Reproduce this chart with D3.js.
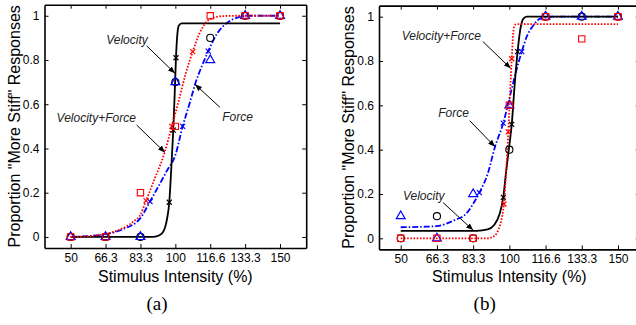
<!DOCTYPE html>
<html lang="en">
<head>
    <meta charset="UTF-8">
    <title>Stiffness psychometric curves</title>
    <script src="https://cdn.jsdelivr.net/npm/d3@7"></script>
    <style>
        body { margin: 0; background: #fff; }
        svg { display: block; }
        .tick-label { font-family: "Liberation Sans", Arial, sans-serif; font-size: 12px; fill: #000; }
        .axis-title { font-family: "Liberation Sans", Arial, sans-serif; font-size: 16px; fill: #000; }
        .note { font-family: "Liberation Sans", Arial, sans-serif; font-size: 12px; font-style: italic; fill: #222; }
        .panel-label { font-family: "Liberation Serif", "Times New Roman", serif; font-size: 19px; fill: #000; }
    </style>
</head>
<body>
<svg id="chart" width="636" height="325"></svg>
<script>
    // stimulus levels and the labels printed under them
    var stimLevels = [50, 66.67, 83.33, 100, 116.67, 133.33, 150];
    var xTickLabels = ["50", "66.3", "83.3", "100", "116.6", "133.3", "150"];
    var yTicks = [0, 0.2, 0.4, 0.6, 0.8, 1];
    var yTickLabels = ["0", "0.2", "0.4", "0.6", "0.8", "1"];

    // (a) observed proportions
    var aVelocity = [0, 0, 0, 0.7, 0.9, 1, 1];
    var aForce = [0, 0, 0, 0.7, 0.8, 1, 1];
    var aVelForce = [0, 0, 0.2, 0.5, 1, 1, 1];

    // (a) fitted curves
    var aVelocityFit = [[50, 0], [88, 0], [91, 0.003], [93.5, 0.015], [95, 0.04], [96, 0.08], [97.1, 0.157],
        [98, 0.3], [99, 0.483], [99.7, 0.65], [100.3, 0.81], [100.9, 0.91], [101.6, 0.955], [103, 0.966], [150, 0.966]];
    var aForceFit = [[50, 0], [60, 0.005], [66.3, 0.012], [75, 0.035], [83.3, 0.085], [87.9, 0.16], [92, 0.23],
        [96, 0.3], [100, 0.37], [103.5, 0.5], [107, 0.61], [109.4, 0.69], [113, 0.78], [115.7, 0.84], [120, 0.92],
        [125, 0.97], [130, 0.993], [135, 1], [150, 1]];
    var aVelForceFit = [[50, 0], [60, 0.005], [66.3, 0.013], [75, 0.04], [80, 0.07], [83.3, 0.1], [86, 0.164],
        [90, 0.26], [95.05, 0.387], [98.3, 0.5], [102, 0.63], [105, 0.74], [108.3, 0.838], [112, 0.93],
        [116.6, 0.985], [122, 0.998], [130, 1], [150, 1]];

    // (a) threshold marks (x) on each curve
    var aVelocityMarks = [[97.1, 0.157], [99, 0.483], [100.3, 0.81]];
    var aForceMarks = [[87.9, 0.16], [103.5, 0.5], [115.7, 0.84]];
    var aVelForceMarks = [[86, 0.164], [98.3, 0.5], [108.3, 0.838]];

    // (b) observed proportions
    var bVelocity = [0, 0.1, 0, 0.4, 1, 1, 1];
    var bForce = [0.1, 0, 0.2, 0.6, 1, 1, 1];
    var bVelForce = [0, 0, 0, 0.6, 1, 0.9, 1];

    // (b) fitted curves
    var bVelocityFit = [[50, 0.034], [85, 0.034], [90, 0.04], [93, 0.06], [95.5, 0.11], [97.2, 0.185],
        [98.5, 0.3], [100, 0.42], [101.1, 0.514], [102.5, 0.7], [103.8, 0.842], [105, 0.94], [106.4, 0.99],
        [108, 1], [150, 1]];
    var bForceFit = [[50, 0.05], [60, 0.052], [66.5, 0.055], [75, 0.083], [80, 0.11], [83.3, 0.155],
        [86.2, 0.206], [90, 0.29], [93.4, 0.413], [97.2, 0.52], [100, 0.63], [103, 0.75], [105.7, 0.842],
        [108, 0.91], [111, 0.96], [114.9, 0.995], [120, 1], [150, 1]];
    var bVelForceFit = [[50, 0], [90, 0], [93, 0.01], [95, 0.04], [96.5, 0.09], [97.5, 0.155], [98.5, 0.3],
        [99.5, 0.48], [100.3, 0.65], [101.1, 0.81], [101.7, 0.915], [102.3, 0.958], [103.2, 0.966], [150, 0.966]];

    // (b) threshold marks (x) on each curve
    var bVelocityMarks = [[97.2, 0.185], [101.1, 0.514], [103.8, 0.842]];
    var bForceMarks = [[86.2, 0.206], [97.2, 0.52], [105.7, 0.842]];
    var bVelForceMarks = [[97.5, 0.155], [99.5, 0.48], [101.1, 0.81]];

    // annotation text + arrow, in data units
    var aNotes = [
        {text: "Velocity", at: [76.9, 0.889], from: [86.3, 0.864], tip: [99.8, 0.74]},
        {text: "Force", at: [129.7, 0.543], from: [121.3, 0.586], tip: [109.4, 0.69]},
        {text: "Velocity+Force", at: [62.2, 0.537], from: [81.5, 0.506], tip: [95.05, 0.382]}
    ];
    var bNotes = [
        {text: "Velocity+Force", at: [68.7, 0.914], from: [87.9, 0.887], tip: [100.6, 0.767]},
        {text: "Force", at: [74.3, 0.564], from: [81.75, 0.531], tip: [93.4, 0.413]},
        {text: "Velocity", at: [60.6, 0.191], from: [69.5, 0.161], tip: [83.3, 0.037]}
    ];

    var svg = d3.select("#chart");
    svg.append("rect").attr("width", 636).attr("height", 325).attr("fill", "#fff");

    svg.append("defs").append("marker")
        .attr("id", "arrow")
        .attr("viewBox", "0 -5 10 10")
        .attr("refX", 10)
        .attr("refY", 0)
        .attr("markerWidth", 7)
        .attr("markerHeight", 7)
        .attr("markerUnits", "userSpaceOnUse")
        .attr("orient", "auto")
        .append("path")
        .attr("d", "M0,-4L10,0L0,4Z")
        .attr("fill", "#000");

    drawPanel({
        left: 44.5, right: 306.2, top: 4.7, bottom: 248, xDomain: [37.5, 162.5],
        titleX: 20, label: "(a)", labelX: 157,
        velocity: aVelocity, force: aForce, velForce: aVelForce,
        velocityFit: aVelocityFit, forceFit: aForceFit, velForceFit: aVelForceFit,
        velocityMarks: aVelocityMarks, forceMarks: aForceMarks, velForceMarks: aVelForceMarks,
        notes: aNotes
    });
    drawPanel({
        left: 379, right: 639.7, top: 5.6, bottom: 249.4, xDomain: [40, 160],
        titleX: 353.5, label: "(b)", labelX: 484.7,
        velocity: bVelocity, force: bForce, velForce: bVelForce,
        velocityFit: bVelocityFit, forceFit: bForceFit, velForceFit: bVelForceFit,
        velocityMarks: bVelocityMarks, forceMarks: bForceMarks, velForceMarks: bVelForceMarks,
        notes: bNotes
    });

    function drawPanel(p) {
        var x = d3.scaleLinear().domain(p.xDomain).range([p.left, p.right]);
        var y = d3.scaleLinear().domain([-0.05, 1.05]).range([p.bottom, p.top]);
        var g = svg.append("g");
        var tickLen = 4;

        //axes on all four sides, ticks pointing in
        var fmtX = function(d, i) { return xTickLabels[i]; };
        var fmtY = function(d, i) { return yTickLabels[i]; };
        g.append("g").attr("transform", "translate(0," + p.bottom + ")")
            .call(d3.axisBottom(x).tickValues(stimLevels).tickFormat(fmtX).tickSizeInner(-tickLen).tickSizeOuter(0).tickPadding(5));
        g.append("g").attr("transform", "translate(" + p.left + ",0)")
            .call(d3.axisLeft(y).tickValues(yTicks).tickFormat(fmtY).tickSizeInner(-tickLen).tickSizeOuter(0).tickPadding(5));
        g.append("g").attr("transform", "translate(0," + p.top + ")")
            .call(d3.axisTop(x).tickValues(stimLevels).tickFormat("").tickSizeInner(-tickLen).tickSizeOuter(0));
        g.append("g").attr("transform", "translate(" + p.right + ",0)")
            .call(d3.axisRight(y).tickValues(yTicks).tickFormat("").tickSizeInner(-tickLen).tickSizeOuter(0));
        g.selectAll(".domain").attr("stroke", "#000").attr("stroke-width", 1.6);
        g.selectAll(".tick line").attr("stroke", "#000").attr("stroke-width", 1);
        g.selectAll(".tick text").attr("class", "tick-label").attr("font-size", null).attr("font-family", null);

        g.append("text").attr("class", "axis-title")
            .attr("x", (p.left + p.right) / 2).attr("y", 282)
            .attr("text-anchor", "middle")
            .text("Stimulus Intensity (%)");
        g.append("text").attr("class", "axis-title")
            .attr("transform", "translate(" + p.titleX + "," + ((p.top + p.bottom) / 2) + ") rotate(-90)")
            .attr("text-anchor", "middle")
            .text("Proportion \"More Stiff\" Responses");
        g.append("text").attr("class", "panel-label")
            .attr("x", p.labelX).attr("y", 310)
            .attr("text-anchor", "middle")
            .text(p.label);

        //fitted curves
        var line = d3.line()
            .x(function(d) { return x(d[0]); })
            .y(function(d) { return y(d[1]); })
            .curve(d3.curveMonotoneX);
        g.append("path").datum(p.forceFit).attr("d", line)
            .attr("fill", "none").attr("stroke", "#0000ff").attr("stroke-width", 1.8)
            .attr("stroke-dasharray", "6,2,1.5,2");
        g.append("path").datum(p.velocityFit).attr("d", line)
            .attr("fill", "none").attr("stroke", "#000").attr("stroke-width", 1.8);
        g.append("path").datum(p.velForceFit).attr("d", line)
            .attr("fill", "none").attr("stroke", "#ff0000").attr("stroke-width", 1.8)
            .attr("stroke-dasharray", "1.6,1.6");

        //threshold x marks
        var marks = [[p.velocityMarks, "#000"], [p.forceMarks, "#0000ff"], [p.velForceMarks, "#ff0000"]];
        marks.forEach(function(m) {
            g.append("g").selectAll("path").data(m[0]).enter().append("path")
                .attr("transform", function(d) { return "translate(" + x(d[0]) + "," + y(d[1]) + ")"; })
                .attr("d", "M-2.5,-2.5L2.5,2.5M-2.5,2.5L2.5,-2.5")
                .attr("stroke", m[1]).attr("stroke-width", 1.2).attr("fill", "none");
        });

        //observed data
        var sym = function(type, size) { return d3.symbol().type(type).size(size)(); };
        g.append("g").selectAll("path").data(p.velocity).enter().append("path")
            .attr("transform", function(d, i) { return "translate(" + x(stimLevels[i]) + "," + y(d) + ")"; })
            .attr("d", sym(d3.symbolCircle, 40))
            .attr("fill", "none").attr("stroke", "#000").attr("stroke-width", 1.1);
        g.append("g").selectAll("path").data(p.force).enter().append("path")
            .attr("transform", function(d, i) { return "translate(" + x(stimLevels[i]) + "," + y(d) + ")"; })
            .attr("d", sym(d3.symbolTriangle, 34))
            .attr("fill", "none").attr("stroke", "#0000ff").attr("stroke-width", 1.2);
        g.append("g").selectAll("path").data(p.velForce).enter().append("path")
            .attr("transform", function(d, i) { return "translate(" + x(stimLevels[i]) + "," + y(d) + ")"; })
            .attr("d", sym(d3.symbolSquare, 40))
            .attr("fill", "none").attr("stroke", "#ff0000").attr("stroke-width", 1.1);

        //annotations with arrows
        p.notes.forEach(function(n) {
            g.append("text").attr("class", "note")
                .attr("x", x(n.at[0])).attr("y", y(n.at[1]))
                .attr("text-anchor", "middle").attr("dominant-baseline", "central")
                .text(n.text);
            g.append("line")
                .attr("x1", x(n.from[0])).attr("y1", y(n.from[1]))
                .attr("x2", x(n.tip[0])).attr("y2", y(n.tip[1]))
                .attr("stroke", "#000").attr("stroke-width", 1)
                .attr("marker-end", "url(#arrow)");
        });
    }
</script>
</body>
</html>
